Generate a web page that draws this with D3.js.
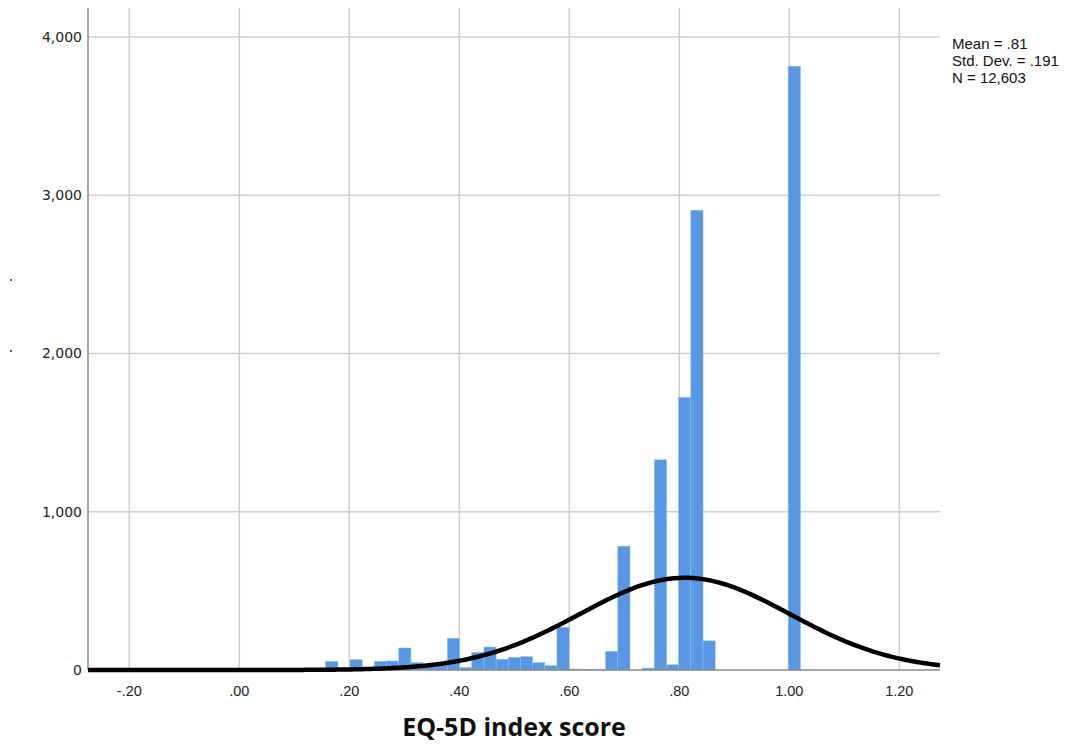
<!DOCTYPE html>
<html>

<head>
  <meta http-equiv="Content-Type" content="text/html;charset=utf-8" />
  <script src="https://cdn.jsdelivr.net/npm/d3@7"></script>
  <style type="text/css">
    body {
      margin: 0;
      background: #fff;
    }

    .grid line {
      stroke: #cfcfcf;
      stroke-width: 1.5;
    }

    .tick-y text {
      font-family: "DejaVu Sans", sans-serif;
      font-size: 14px;
      fill: #222;
    }

    .tick-x text {
      font-family: "Liberation Sans", Arial, sans-serif;
      font-size: 14.5px;
      fill: #222;
    }

    .stats text {
      font-family: "Liberation Sans", Arial, sans-serif;
      font-size: 15px;
      fill: #111;
    }

    .bar {
      fill: #5897e3;
      stroke: #8dbaf0;
      stroke-width: 0.6;
    }
  </style>
</head>

<body>
  <svg id="c" width="1086" height="744"></svg>

  <script>
    // histogram bins (lower edge of first bin, width of every bin)
    const binStart = 0.1571;
    const binWidth = 0.02213;

    // frequency per bin
    const counts = [
      55, 0, 65, 0, 55, 57, 139, 48, 30, 45,
      200, 15, 112, 145, 68, 80, 84, 47, 27, 270,
      6, 3, 2, 118, 782, 0, 12, 1328, 33, 1722,
      2905, 184, 0, 0, 0, 0, 0, 0, 3815
    ];

    // summary stats shown top right, also drive the normal curve
    const mean = 0.81;
    const sd = 0.191;
    const n = 12603;
    const statLines = ["Mean = .81", "Std. Dev. = .191", "N = 12,603"];

    const xTicks = [-0.2, 0, 0.2, 0.4, 0.6, 0.8, 1.0, 1.2];
    const xTickLabels = ["-.20", ".00", ".20", ".40", ".60", ".80", "1.00", "1.20"];
    const yTicks = [0, 1000, 2000, 3000, 4000];
    const xTitle = "EQ-5D index score";

    const plotL = 88, plotR = 940, plotT = 8, plotB = 670;

    const svg = d3.select("#c");

    const x = d3.scaleLinear()
      .domain([-0.2751, 1.2740])
      .range([plotL, plotR]);

    const y = d3.scaleLinear()
      .domain([0, 4183])
      .range([plotB, plotT]);

    const bins = counts.map((c, i) => ({
      x0: binStart + i * binWidth,
      x1: binStart + (i + 1) * binWidth,
      count: c
    }));

    // grid
    const grid = svg.append("g").attr("class", "grid");
    grid.selectAll(".gy")
      .data(yTicks.filter(d => d > 0))
      .join("line")
      .attr("x1", plotL).attr("x2", plotR)
      .attr("y1", d => y(d)).attr("y2", d => y(d));
    grid.selectAll(".gx")
      .data(xTicks)
      .join("line")
      .attr("x1", d => x(d)).attr("x2", d => x(d))
      .attr("y1", plotT).attr("y2", plotB);

    // bars
    svg.append("g")
      .selectAll("rect")
      .data(bins.filter(b => b.count > 0))
      .join("rect")
      .attr("class", "bar")
      .attr("x", d => x(d.x0))
      .attr("width", d => x(d.x1) - x(d.x0))
      .attr("y", d => y(d.count))
      .attr("height", d => y(0) - y(d.count));

    // axes lines
    svg.append("line")
      .attr("x1", plotL).attr("x2", plotL)
      .attr("y1", plotT).attr("y2", plotB)
      .attr("stroke", "#8a8a8a").attr("stroke-width", 1.5);
    svg.append("line")
      .attr("x1", plotL).attr("x2", plotR)
      .attr("y1", plotB).attr("y2", plotB)
      .attr("stroke", "#8a8a8a").attr("stroke-width", 1.5);

    // normal curve scaled to counts
    const norm = v => n * binWidth / (sd * Math.sqrt(2 * Math.PI)) *
      Math.exp(-0.5 * ((v - mean) / sd) ** 2);
    const curvePts = d3.range(0, 401).map(i => {
      const v = x.domain()[0] + (x.domain()[1] - x.domain()[0]) * i / 400;
      return [v, norm(v)];
    });
    svg.append("path")
      .datum(curvePts)
      .attr("fill", "none")
      .attr("stroke", "#000")
      .attr("stroke-width", 4.5)
      .attr("d", d3.line().x(d => x(d[0])).y(d => y(d[1])));

    // y tick labels
    const yAxis = svg.append("g").attr("class", "tick-y");
    yAxis.selectAll("text")
      .data(yTicks)
      .join("text")
      .attr("x", 82)
      .attr("y", d => y(d))
      .attr("dy", "0.35em")
      .attr("text-anchor", "end")
      .text(d3.format(","));

    // x tick labels
    const xAxis = svg.append("g").attr("class", "tick-x");
    xAxis.selectAll("text")
      .data(xTicks)
      .join("text")
      .attr("x", d => x(d))
      .attr("y", 696)
      .attr("text-anchor", "middle")
      .text((d, i) => xTickLabels[i]);

    // axis title
    svg.append("text")
      .attr("x", 514)
      .attr("y", 736)
      .attr("text-anchor", "middle")
      .style("font-family", "'Open Sans', sans-serif")
      .style("font-weight", "bold")
      .style("font-size", "25px")
      .style("fill", "#111")
      .text(xTitle);

    // stray marks left of the y axis (clipped y title)
    svg.selectAll(".dot")
      .data([280, 351])
      .join("circle")
      .attr("cx", 11).attr("cy", d => d).attr("r", 1)
      .attr("fill", "#222");

    // stats box
    svg.append("g").attr("class", "stats")
      .selectAll("text")
      .data(statLines)
      .join("text")
      .attr("x", 952)
      .attr("y", (d, i) => 49 + i * 17)
      .text(d => d);
  </script>
</body>

</html>
